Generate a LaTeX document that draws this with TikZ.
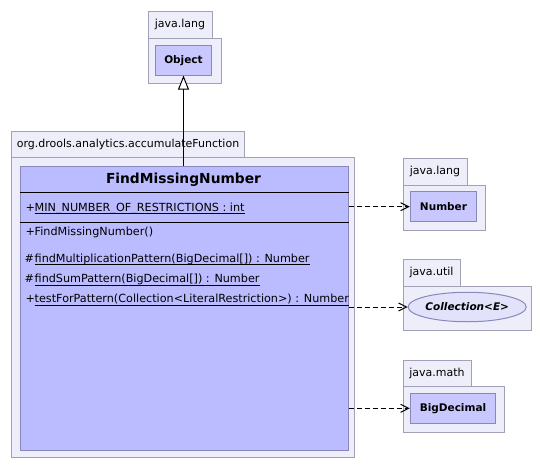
\documentclass[tikz,border=0pt]{standalone}
\usepackage{fontspec}
\setmainfont{DejaVu Sans}
\usetikzlibrary{shapes.geometric,arrows.meta}
\definecolor{pkgfill}{RGB}{238,238,250}
\definecolor{pkgline}{RGB}{160,160,182}
\definecolor{clsfill}{RGB}{187,187,255}
\definecolor{clsline}{RGB}{136,136,190}
\definecolor{reffill}{RGB}{200,200,255}
\definecolor{ifcfill}{RGB}{226,226,250}

\begin{document}
\begin{tikzpicture}[
    x=1pt, y=-1pt,
    every node/.style={font=\fontsize{11}{13}\selectfont, inner sep=0pt},
    pkgtab/.style={rectangle, draw=pkgline, fill=pkgfill, line width=1pt,
                   anchor=north west, minimum height=27pt},
    pkgbody/.style={rectangle, draw=pkgline, fill=pkgfill, line width=1pt,
                    anchor=north west},
    classbox/.style={rectangle, draw=clsline, fill=clsfill, line width=1pt,
                     anchor=north west},
    refcls/.style={rectangle, draw=clsline, fill=reffill, line width=1pt,
                   minimum height=29.5pt, font=\fontsize{10.5}{12}\selectfont\bfseries},
    ifc/.style={ellipse, draw=clsline, fill=ifcfill, line width=1pt,
                font=\fontsize{10.5}{12}\selectfont\bfseries\itshape},
    member/.style={anchor=base west, font=\fontsize{11.2}{13}\selectfont},
    sepline/.style={line width=1pt},
    uline/.style={line width=0.9pt},
    dep/.style={line width=1pt, dash pattern=on 5pt off 3pt,
                -{Straight Barb[length=8pt, width=8pt, line width=1pt]}},
    inherit/.style={line width=1pt,
                    -{Triangle[open, fill=white, length=14pt, width=11pt, line width=1pt]}},
]
\useasboundingbox (0,0) rectangle (544,469);

% package java.lang with Object
\node[pkgbody, minimum width=73pt, minimum height=45pt] (objpkg) at (147.5,37.5) {};
\node[pkgtab, minimum width=64pt] (objtab) at (147.5,10.5) {java.lang};
\node[refcls, minimum width=56.5pt] (object) at (183.5,60.3) {Object};

% package org.drools.analytics.accumulateFunction
\node[pkgbody, minimum width=343pt, minimum height=300.5pt] (mainpkg) at (11,156.5) {};
\node[pkgtab, minimum width=233pt, minimum height=26pt] (maintab) at (11,130.5) {org.drools.analytics.accumulateFunction};
\node[classbox, minimum width=328pt, minimum height=284.5pt] (fmn) at (19.5,165.7) {};
\node[font=\fontsize{13.8}{16}\selectfont\bfseries] (fmnname) at (183.5,180) {FindMissingNumber};

\coordinate (sep1) at (0,192.7);
\coordinate (sep2) at (0,222.3);
\draw[sepline] (fmn.west |- sep1) -- (fmn.east |- sep1);
\draw[sepline] (fmn.west |- sep2) -- (fmn.east |- sep2);

% members
\node[member] (vattr) at (25.5,211) {+};
\node[member] (attr)  at (34.5,211) {MIN\_NUMBER\_OF\_RESTRICTIONS : int};
\node[member] (vctor) at (25.5,235.5) {+};
\node[member] (ctor)  at (34.5,235.5) {FindMissingNumber()};
\node[member] (vmul)  at (24.5,262) {\#};
\node[member] (mmul)  at (34.5,262) {findMultiplicationPattern(BigDecimal[]) : Number};
\node[member] (vsum)  at (24.5,282.5) {\#};
\node[member] (msum)  at (34.5,282.5) {findSumPattern(BigDecimal[]) : Number};
\node[member] (vtest) at (25.5,302.5) {+};
\node[member] (mtest) at (34.5,302.5) {testForPattern(Collection<LiteralRestriction>) : Number};

\foreach \m in {attr,mmul,msum,mtest}
  \draw[uline] ([yshift=-2.5pt]\m.base west) -- ([yshift=-2.5pt]\m.base east);

% package java.lang with Number
\node[pkgbody, minimum width=82pt, minimum height=45pt] (numpkg) at (402.5,184.5) {};
\node[pkgtab, minimum width=64pt] (numtab) at (402.5,157.5) {java.lang};
\node[refcls, minimum width=66.5pt] (number) at (443.5,206.7) {Number};

% package java.util with Collection
\node[pkgbody, minimum width=128pt, minimum height=44.5pt] (utilpkg) at (402.5,285.5) {};
\node[pkgtab, minimum width=57pt] (utiltab) at (402.5,258.5) {java.util};
\node[ifc, minimum width=113.5pt, minimum height=29.5pt] (collection) at (467.2,307) {Collection<E>};

% package java.math with BigDecimal
\node[pkgbody, minimum width=101pt, minimum height=46pt] (mathpkg) at (402.5,385.5) {};
\node[pkgtab, minimum width=68pt, minimum height=26pt] (mathtab) at (402.5,359.5) {java.math};
\node[refcls, minimum width=85.5pt, minimum height=30pt] (bigdec) at (453,408.3) {BigDecimal};

% relations
\draw[inherit] (fmn.north -| object.south) -- (object.south);
\draw[dep] (fmn.east |- number) -- (number);
\draw[dep] (fmn.east |- collection) -- (collection);
\draw[dep] (fmn.east |- bigdec) -- (bigdec);

\end{tikzpicture}
\end{document}
